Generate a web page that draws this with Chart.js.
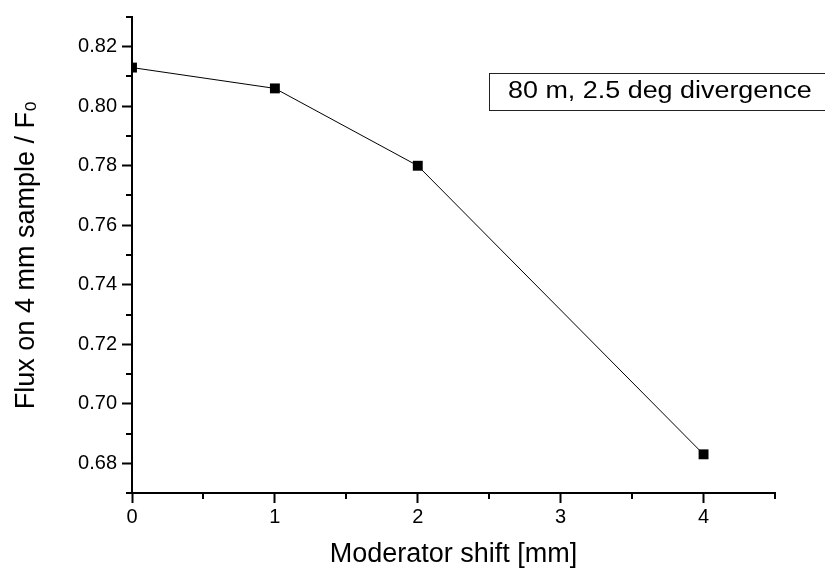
<!DOCTYPE html>
<html>
<head>
<meta charset="utf-8">
<script src="https://cdn.jsdelivr.net/npm/chart.js@4"></script>
<style>
  html, body { margin: 0; padding: 0; background: #fff; }
</style>
</head>
<body>
<canvas id="canvas" width="825" height="572"></canvas>
<script>
// data
const shift = [0, 1, 2, 4];
const flux = [0.813, 0.806, 0.780, 0.683];

const xTicks = [0, 1, 2, 3, 4];
const xMinor = [0.5, 1.5, 2.5, 3.5, 4.5];
const yTicks = [0.68, 0.70, 0.72, 0.74, 0.76, 0.78, 0.80, 0.82];
const yMinor = [0.67, 0.69, 0.71, 0.73, 0.75, 0.77, 0.79, 0.81, 0.83];

const xTitle = "Moderator shift [mm]";
const yTitle = "Flux on 4 mm sample / F\u2080";
const boxLabel = "80 m, 2.5 deg divergence";

const FONT = "'Liberation Sans', Arial, sans-serif";

// small ticks between the labelled ones
const minorTicks = {
  id: "minorTicks",
  afterDraw(chart) {
    const ctx = chart.ctx;
    const x = chart.scales.x;
    const y = chart.scales.y;
    const area = chart.chartArea;
    ctx.save();
    ctx.strokeStyle = "#000";
    ctx.lineWidth = 2;
    ctx.beginPath();
    xMinor.forEach((v) => {
      const px = Math.round(x.getPixelForValue(v));
      ctx.moveTo(px, area.bottom);
      ctx.lineTo(px, area.bottom + 6);
    });
    yMinor.forEach((v) => {
      const py = Math.round(y.getPixelForValue(v));
      ctx.moveTo(area.left, py);
      ctx.lineTo(area.left - 6, py);
    });
    ctx.stroke();
    ctx.restore();
  },
};

// the framed label in the top right corner
const labelBox = {
  id: "labelBox",
  afterDraw(chart) {
    const ctx = chart.ctx;
    ctx.save();
    ctx.strokeStyle = "#222";
    ctx.lineWidth = 1;
    ctx.strokeRect(489.5, 73.5, 345, 37);
    ctx.fillStyle = "#000";
    ctx.font = "23px " + FONT;
    ctx.textBaseline = "middle";
    ctx.translate(508, 92);
    ctx.scale(1.17, 1);
    ctx.fillText(boxLabel, 0, 0);
    ctx.restore();
  },
};

const ctx = document.getElementById("canvas");
const myChart = new Chart(ctx, {
  type: "line",
  data: {
    labels: shift,
    datasets: [
      {
        data: shift.map((s, i) => ({ x: s, y: flux[i] })),
        borderColor: "#000",
        borderWidth: 1,
        backgroundColor: "#000",
        pointStyle: "rect",
        pointRadius: 7,
        pointBorderWidth: 0,
        pointBackgroundColor: "#000",
        tension: 0,
        clip: { left: 0, top: false, right: false, bottom: false },
      },
    ],
  },
  options: {
    responsive: false,
    animation: false,
    layout: { padding: { top: 14, right: 50, left: 0, bottom: 0 } },
    plugins: { legend: { display: false }, tooltip: { enabled: false } },
    scales: {
      x: {
        type: "linear",
        min: 0,
        max: 4.5,
        afterBuildTicks: (scale) => {
          scale.ticks = xTicks.map((v) => ({ value: v }));
        },
        afterFit: (scale) => {
          scale.height = 79;
        },
        ticks: {
          color: "#000",
          font: { family: FONT, size: 20 },
          padding: 2,
          maxRotation: 0,
          callback: (v) => String(v),
        },
        grid: {
          drawOnChartArea: false,
          tickLength: 10,
          tickWidth: 2,
          tickColor: "#000",
        },
        border: { display: true, color: "#000", width: 2 },
        title: {
          display: true,
          text: xTitle,
          color: "#000",
          font: { family: FONT, size: 27 },
          padding: { top: 0, bottom: 1 },
        },
      },
      y: {
        type: "linear",
        min: 0.67,
        max: 0.83,
        afterBuildTicks: (scale) => {
          scale.ticks = yTicks.map((v) => ({ value: v }));
        },
        afterFit: (scale) => {
          scale.width = 132;
        },
        ticks: {
          color: "#000",
          font: { family: FONT, size: 20 },
          padding: 5,
          callback: (v) => v.toFixed(2),
        },
        grid: {
          drawOnChartArea: false,
          tickLength: 10,
          tickWidth: 2,
          tickColor: "#000",
        },
        border: { display: true, color: "#000", width: 2 },
        title: {
          display: true,
          text: yTitle,
          color: "#000",
          font: { family: FONT, size: 27 },
          padding: { top: 10, bottom: 0 },
        },
      },
    },
  },
  plugins: [minorTicks, labelBox],
});
</script>
</body>
</html>
